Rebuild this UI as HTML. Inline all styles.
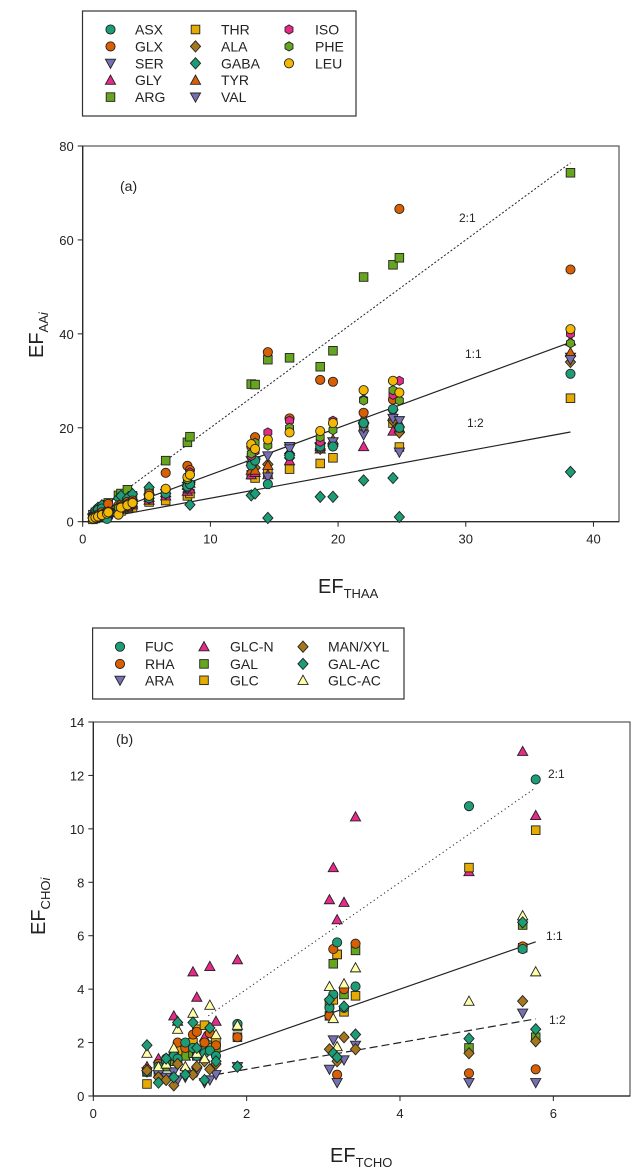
<!DOCTYPE html>
<html><head><meta charset="utf-8">
<style>
html,body{margin:0;padding:0;background:#fff;}
svg{display:block;font-family:"Liberation Sans",Arial,sans-serif;}
</style></head>
<body>
<svg id="fig" width="636" height="1174" viewBox="0 0 636 1174" xmlns="http://www.w3.org/2000/svg">
  <g id="chartA"></g>
  <g id="chartB"></g>
</svg>
<script>
// ---------- Panel (a) data ----------
const thaaX = [0.8,1.0,1.2,1.5,1.9,2.0,2.8,3.0,3.5,3.9,5.2,6.5,8.2,8.4,13.2,13.5,14.5,16.2,18.6,19.6,22.0,24.3,24.8,38.2];
const aaNames = ['ASX','GLX','SER','GLY','ARG','THR','ALA','GABA','TYR','VAL','ISO','PHE','LEU'];
const asxY  = [0.9,1.8,2.5,2.8,0.6,1.8,3.0,3.2,3.5,3.8,5.0,6.0,7.5,8.0,12.0,13.0,8.0,14.0,16.0,16.0,21.0,24.0,20.0,31.5];
const glxY  = [1.0,1.3,1.5,2.0,2.2,3.8,3.5,3.6,4.2,4.5,6.0,10.4,11.9,11.0,16.0,18.0,36.1,22.0,30.2,29.8,23.2,26.0,66.6,53.7];
const serY  = [0.7,0.9,1.1,1.3,1.5,1.8,2.5,2.7,3.2,3.5,4.8,6.0,7.0,7.5,12.0,12.5,9.5,16.0,15.8,17.0,18.5,23.0,14.8,35.0];
const glyY  = [0.8,1.0,1.2,1.4,1.6,1.9,2.6,2.8,3.2,3.6,4.6,5.5,6.5,7.0,10.0,10.5,10.0,13.0,15.5,17.0,16.0,19.3,21.0,38.5];
const argY  = [1.5,2.0,2.4,3.0,3.6,4.0,5.6,6.0,6.8,5.5,6.5,13.0,16.9,18.1,29.3,29.2,34.5,34.9,33.0,36.4,52.1,54.7,56.2,74.3];
const thrY  = [0.5,0.7,0.9,1.1,1.3,1.5,2.0,2.3,2.8,3.0,4.2,4.5,5.5,6.0,10.0,9.3,10.4,11.2,12.4,13.6,20.5,21.0,15.9,26.3];
const alaY  = [0.8,1.0,1.2,1.5,1.8,2.0,2.8,3.0,3.5,3.9,5.0,6.0,7.5,8.0,12.0,11.5,12.2,14.5,15.5,16.5,21.0,21.5,19.0,34.0];
const gabaY = [1.5,2.5,3.0,3.5,1.0,2.0,5.0,5.5,5.0,5.9,7.3,6.0,7.0,3.6,5.6,6.0,0.8,13.6,5.3,5.3,8.8,9.3,1.0,10.6];
const tyrY  = [0.9,1.1,1.3,1.6,1.9,2.1,2.9,3.1,3.6,4.0,5.2,6.2,7.8,8.2,11.0,11.0,12.0,15.0,16.0,17.5,22.0,22.5,20.0,36.0];
const valY  = [0.8,1.0,1.2,1.5,1.7,2.0,2.7,2.9,3.4,3.8,5.0,6.0,7.5,7.8,13.0,13.0,14.0,15.5,16.0,17.0,20.0,22.0,21.5,34.5];
const isoY  = [0.9,1.1,1.3,1.6,2.0,2.2,3.0,3.3,3.8,4.2,5.5,7.0,9.0,10.5,14.0,15.0,19.0,21.5,17.0,21.5,26.0,27.0,30.0,40.0];
const pheY  = [0.9,1.1,1.3,1.6,2.0,2.2,3.0,3.3,3.8,4.2,5.5,7.0,9.0,10.0,14.5,16.8,16.2,20.0,18.0,19.5,25.8,28.0,25.8,38.0];
const leuY  = [0.7,0.9,1.1,1.4,1.7,2.0,1.5,3.0,3.5,4.0,5.5,7.0,9.5,10.0,16.5,15.5,17.5,19.0,19.3,21.0,28.0,30.0,27.5,41.0];
const aTicksX = [0,10,20,30,40];
const aTicksY = [0,20,40,60,80];
const aRatios = [2,1,0.5];
const aRatioLabels = ['2:1','1:1','1:2'];

// ---------- Panel (b) data ----------
const tchoX = [0.7,0.85,0.95,1.05,1.1,1.2,1.3,1.35,1.45,1.52,1.6,1.88,3.08,3.13,3.18,3.27,3.42,4.9,5.6,5.77];
const choNames = ['FUC','RHA','ARA','GLC-N','GAL','GLC','MAN/XYL','GAL-AC','GLC-AC'];
const fucY   = [0.9,1.1,1.3,1.5,1.4,2.0,1.8,1.5,1.6,1.7,1.5,2.7,3.3,3.8,5.75,3.3,4.1,10.85,5.5,11.85];
const rhaY   = [1.0,1.2,1.4,1.6,2.0,1.8,2.3,2.4,2.0,2.35,1.9,2.2,3.0,5.5,0.8,4.0,5.7,0.85,5.6,1.0];
const araY   = [0.9,0.8,0.7,0.9,0.6,0.7,0.8,0.9,0.5,0.6,0.8,1.1,1.0,2.1,0.5,1.35,1.9,0.5,3.1,0.5];
const glcnY  = [1.1,1.4,1.3,3.0,2.8,1.5,4.65,3.7,2.2,4.85,2.8,5.1,7.35,8.55,6.6,7.25,10.45,8.4,12.9,10.5];
const galY   = [0.9,1.0,1.1,1.3,1.4,1.5,1.6,1.5,1.7,1.9,1.8,2.6,3.5,4.95,5.3,3.8,5.45,1.8,6.4,2.2];
const glcY   = [0.45,0.9,1.2,1.5,1.7,1.9,2.0,2.5,2.65,1.8,2.0,2.2,3.0,3.6,5.3,3.15,3.75,8.55,5.55,9.95];
const manY   = [0.95,0.7,0.6,0.4,1.2,1.0,0.8,1.1,1.3,1.0,1.2,1.1,1.75,1.6,1.3,2.2,1.75,1.6,3.55,2.05];
const galacY = [1.9,0.5,1.4,0.7,2.75,0.8,2.75,1.8,0.6,2.55,1.3,1.1,3.6,1.6,1.45,3.35,2.3,2.15,6.5,2.5];
const glcacY = [1.6,1.1,1.2,1.8,2.5,1.1,3.1,1.6,1.4,3.4,2.3,2.65,4.1,2.9,1.85,4.2,4.8,3.55,6.75,4.65];
const bTicksX = [0,2,4,6];
const bTicksY = [0,2,4,6,8,10,12,14];
const bRatios = [2,1,0.5];
const bRatioLabels = ['2:1','1:1','1:2'];

const NS = 'http://www.w3.org/2000/svg';
function mk(tag, attrs, parent){
  const e = document.createElementNS(NS, tag);
  for (const k in attrs) e.setAttribute(k, attrs[k]);
  parent.appendChild(e);
  return e;
}
function marker(g, shape, cx, cy, fill){
  const r = 4.6;
  let e;
  if (shape==='circle') e = mk('circle',{cx:cx,cy:cy,r:r},g);
  else if (shape==='square') e = mk('rect',{x:cx-r+0.3,y:cy-r+0.3,width:2*r-0.6,height:2*r-0.6},g);
  else if (shape==='diamond') e = mk('polygon',{points:`${cx},${cy-r-1} ${cx+r+0.5},${cy} ${cx},${cy+r+1} ${cx-r-0.5},${cy}`},g);
  else if (shape==='up') e = mk('polygon',{points:`${cx},${cy-r-0.5} ${cx+r+0.5},${cy+r-0.5} ${cx-r-0.5},${cy+r-0.5}`},g);
  else if (shape==='down') e = mk('polygon',{points:`${cx},${cy+r+0.5} ${cx+r+0.5},${cy-r+0.5} ${cx-r-0.5},${cy-r+0.5}`},g);
  else if (shape==='hex'){
    let p=[]; for(let i=0;i<6;i++){const a=Math.PI/3*i+Math.PI/6; p.push((cx+r*Math.cos(a)).toFixed(2)+','+(cy+r*Math.sin(a)).toFixed(2));}
    e = mk('polygon',{points:p.join(' ')},g);
  }
  e.setAttribute('fill', fill);
  e.setAttribute('stroke', '#222');
  e.setAttribute('stroke-width', '0.9');
  return e;
}

function drawPanel(root, cfg){
  const {x0,x1,y0,y1,xmax,ymax,xs,series,ticksX,ticksY,ratios,ratioLabels,labelPos,panelLabel,lineStart,lineStyles} = cfg;
  const sx = v => x0 + (x1-x0)*v/xmax;
  const sy = v => y0 - (y0-y1)*v/ymax;
  const frame = mk('rect',{x:x0,y:y1,width:x1-x0,height:y0-y1,fill:'none',stroke:'#555','stroke-width':1.2},root);
  
  
  const xa = mk('g',{},root);
  
  
  mk('line',{x1:x0,y1:y0,x2:x1,y2:y0,stroke:'#222','stroke-width':1.2},xa);
  ticksX.forEach(t=>{
    mk('line',{x1:sx(t),y1:y0,x2:sx(t),y2:y0+5,stroke:'#222','stroke-width':1},xa);
    const tx = mk('text',{x:sx(t),y:y0+22,'text-anchor':'middle','font-size':13,fill:'#222'},xa);
    tx.textContent = t;
    
    
  });
  const ya = mk('g',{},root);
  
  
  mk('line',{x1:x0,y1:y0,x2:x0,y2:y1,stroke:'#222','stroke-width':1.2},ya);
  ticksY.forEach(t=>{
    mk('line',{x1:x0-5,y1:sy(t),x2:x0,y2:sy(t),stroke:'#222','stroke-width':1},ya);
    const tx = mk('text',{x:x0-9,y:sy(t)+5,'text-anchor':'end','font-size':13,fill:'#222'},ya);
    tx.textContent = t;
    
    
  });
  const pl = mk('text',{x:panelLabel[1],y:panelLabel[2],'font-size':14,fill:'#222'},root);
  pl.textContent = panelLabel[0];
  
  
  // ratio lines
  const xe = xs[xs.length-1];
  ratios.forEach((r,i)=>{
    const ln = mk('line',{x1:sx(lineStart[i]),y1:sy(lineStart[i]*r),x2:sx(xe),y2:sy(xe*r),stroke:'#222','stroke-width':lineStyles[i][1],'stroke-dasharray':lineStyles[i][0]},root);
    
    
    const lt = mk('text',{x:labelPos[i][0],y:labelPos[i][1],'font-size':12,fill:'#222'},root);
    lt.textContent = ratioLabels[i];
    
    
  });
  series.forEach(s=>{
    const g = mk('g',{},root);
    
    
    s.vals.forEach((v,i)=>{
      const m = marker(g, s.shape, sx(xs[i]), sy(v), s.color);
      
      
    });
  });
}

function drawLegend(root, box, cols, items){
  const lg = mk('g',{},root);
  
  
  mk('rect',{x:box[0],y:box[1],width:box[2],height:box[3],fill:'#fff',stroke:'#333','stroke-width':1.2},lg);
  items.forEach(it=>{
    const c = cols[it.col];
    const e = mk('g',{},lg);
    
    
    marker(e, it.shape, c[0], it.y, it.color);
    const t = mk('text',{x:c[1],y:it.y+5,'font-size':14,fill:'#222'},e);
    t.textContent = it.name;
  });
}

const C = {teal:'#1b9e77',orange:'#d95f02',purple:'#7570b3',pink:'#e7298a',green:'#66a61e',gold:'#e6ab02',brown:'#a6761d',yellow:'#f5b800',pale:'#ffffa8'};

// Panel a
const A = document.getElementById('chartA');
const aSeries = [
  {name:'ARG',vals:argY,shape:'square',color:C.green},
  {name:'GABA',vals:gabaY,shape:'diamond',color:C.teal},
  {name:'THR',vals:thrY,shape:'square',color:C.gold},
  {name:'GLY',vals:glyY,shape:'up',color:C.pink},
  {name:'ALA',vals:alaY,shape:'diamond',color:C.brown},
  {name:'SER',vals:serY,shape:'down',color:C.purple},
  {name:'TYR',vals:tyrY,shape:'up',color:C.orange},
  {name:'VAL',vals:valY,shape:'down',color:C.purple},
  {name:'ASX',vals:asxY,shape:'circle',color:C.teal},
  {name:'GLX',vals:glxY,shape:'circle',color:C.orange},
  {name:'ISO',vals:isoY,shape:'hex',color:C.pink},
  {name:'PHE',vals:pheY,shape:'hex',color:C.green},
  {name:'LEU',vals:leuY,shape:'circle',color:C.yellow}
];
drawPanel(A,{x0:82.7,x1:619,y0:521.7,y1:146,xmax:42,ymax:80,xs:thaaX,series:aSeries,
  ticksX:aTicksX,ticksY:aTicksY,ratios:aRatios,ratioLabels:aRatioLabels,
  labelPos:[[459,222],[465,358],[467,427]],panelLabel:['(a)',120,191],
  lineStart:[0.8,0.8,0.8],lineStyles:[['2,2',1],['none',1.2],['none',1.2]]});
drawLegend(A,[82.5,11,273.5,105],[[110.5,135],[195.5,221],[289,315]],[
  {name:'ASX',shape:'circle',color:C.teal,col:0,y:29.5},
  {name:'GLX',shape:'circle',color:C.orange,col:0,y:46.4},
  {name:'SER',shape:'down',color:C.purple,col:0,y:63.3},
  {name:'GLY',shape:'up',color:C.pink,col:0,y:80.2},
  {name:'ARG',shape:'square',color:C.green,col:0,y:97.1},
  {name:'THR',shape:'square',color:C.gold,col:1,y:29.5},
  {name:'ALA',shape:'diamond',color:C.brown,col:1,y:46.4},
  {name:'GABA',shape:'diamond',color:C.teal,col:1,y:63.3},
  {name:'TYR',shape:'up',color:C.orange,col:1,y:80.2},
  {name:'VAL',shape:'down',color:C.purple,col:1,y:97.1},
  {name:'ISO',shape:'hex',color:C.pink,col:2,y:29.5},
  {name:'PHE',shape:'hex',color:C.green,col:2,y:46.4},
  {name:'LEU',shape:'circle',color:C.yellow,col:2,y:63.3}
]);
let t;
t = mk('text',{x:318,y:593,'font-size':20,fill:'#222'},A);
t.innerHTML = 'EF<tspan font-size="13" dy="5">THAA</tspan>';


t = mk('text',{x:0,y:0,'font-size':20,fill:'#222',transform:'translate(43,358) rotate(-90)'},A);
t.innerHTML = 'EF<tspan font-size="13" dy="5">AA<tspan font-style="italic">i</tspan></tspan>';



// Panel b
const B = document.getElementById('chartB');
const bSeries = [
  {name:'GLC-N',vals:glcnY,shape:'up',color:C.pink},
  {name:'GAL',vals:galY,shape:'square',color:C.green},
  {name:'GLC',vals:glcY,shape:'square',color:C.gold},
  {name:'RHA',vals:rhaY,shape:'circle',color:C.orange},
  {name:'FUC',vals:fucY,shape:'circle',color:C.teal},
  {name:'ARA',vals:araY,shape:'down',color:C.purple},
  {name:'MAN/XYL',vals:manY,shape:'diamond',color:C.brown},
  {name:'GLC-AC',vals:glcacY,shape:'up',color:C.pale},
  {name:'GAL-AC',vals:galacY,shape:'diamond',color:C.teal}
];
drawPanel(B,{x0:93.3,x1:630,y0:1096,y1:722,xmax:7,ymax:14,xs:tchoX,series:bSeries,
  ticksX:bTicksX,ticksY:bTicksY,ratios:bRatios,ratioLabels:bRatioLabels,
  labelPos:[[548,778],[546,940],[549,1024]],panelLabel:['(b)',116,744],
  lineStart:[1.5,1.6,1.6],lineStyles:[['1.2,3',1],['none',1.2],['8,4',1.2]]});
drawLegend(B,[92.6,628,311.4,71],[[120,145],[204,230],[303,328]],[
  {name:'FUC',shape:'circle',color:C.teal,col:0,y:646.7},
  {name:'RHA',shape:'circle',color:C.orange,col:0,y:663.9},
  {name:'ARA',shape:'down',color:C.purple,col:0,y:680.3},
  {name:'GLC-N',shape:'up',color:C.pink,col:1,y:646.7},
  {name:'GAL',shape:'square',color:C.green,col:1,y:663.9},
  {name:'GLC',shape:'square',color:C.gold,col:1,y:680.3},
  {name:'MAN/XYL',shape:'diamond',color:C.brown,col:2,y:646.7},
  {name:'GAL-AC',shape:'diamond',color:C.teal,col:2,y:663.9},
  {name:'GLC-AC',shape:'up',color:C.pale,col:2,y:680.3}
]);
t = mk('text',{x:330,y:1162,'font-size':20,fill:'#222'},B);
t.innerHTML = 'EF<tspan font-size="13" dy="5">TCHO</tspan>';


t = mk('text',{x:0,y:0,'font-size':20,fill:'#222',transform:'translate(45,935) rotate(-90)'},B);
t.innerHTML = 'EF<tspan font-size="13" dy="5">CHO<tspan font-style="italic">i</tspan></tspan>';


</script>
</body></html>
